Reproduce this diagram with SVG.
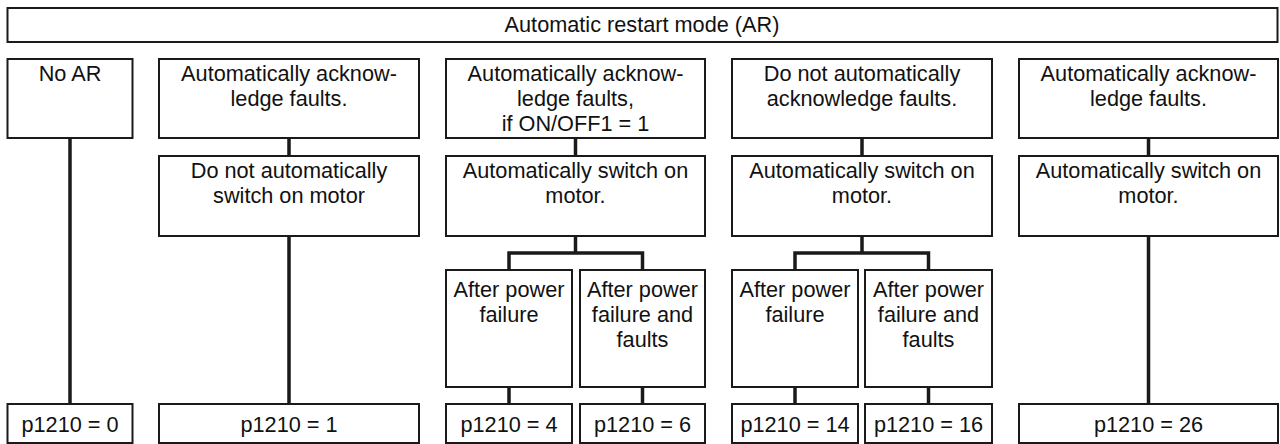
<svg xmlns="http://www.w3.org/2000/svg" width="1280" height="444" viewBox="0 0 1280 444">
<style>
.box{fill:#fff;stroke:#1a1a1a;stroke-width:2}
.t{font-family:"Liberation Sans",Arial,sans-serif;font-size:21.7px;fill:#111;text-anchor:middle}
.c{fill:none;stroke:#1a1a1a;stroke-width:3.5;stroke-linejoin:miter;stroke-linecap:butt}
</style>
<rect width="1280" height="444" fill="#fff"/>
<g id="connectors">
<path class="c" d="M70 138V404"/>
<path class="c" d="M289 138V156M289 236V404"/>
<path class="c" d="M575.5 138V156M575.5 236V253M509 270V253H642.5V270M509 387V404M642.5 387V404"/>
<path class="c" d="M862 138V156M862 236V253M795 270V253H928.5V270M795 387V404M928.5 387V404"/>
<path class="c" d="M1148.5 138V156M1148.5 236V404"/>
</g>
<g id="title"><rect class="box" x="7.5" y="8" width="1270" height="34"/><text class="t" x="642" y="32">Automatic restart mode (AR)</text></g>
<g id="noar"><rect class="box" x="7.5" y="59" width="125" height="79"/><text class="t" x="70" y="81">No AR</text></g>
<g id="ack1"><rect class="box" x="159" y="59" width="260" height="79"/><text class="t" x="289" y="81">Automatically acknow-</text><text class="t" x="289" y="106">ledge faults.</text></g>
<g id="ack2"><rect class="box" x="446" y="59" width="259" height="79"/><text class="t" x="575.5" y="81">Automatically acknow-</text><text class="t" x="575.5" y="106">ledge faults,</text><text class="t" x="575.5" y="131">if ON/OFF1 = 1</text></g>
<g id="noack"><rect class="box" x="732" y="59" width="260" height="79"/><text class="t" x="862" y="81">Do not automatically</text><text class="t" x="862" y="106">acknowledge faults.</text></g>
<g id="ack3"><rect class="box" x="1019" y="59" width="259" height="79"/><text class="t" x="1148.5" y="81">Automatically acknow-</text><text class="t" x="1148.5" y="106">ledge faults.</text></g>
<g id="noswitch"><rect class="box" x="159" y="156" width="260" height="80"/><text class="t" x="289" y="178">Do not automatically</text><text class="t" x="289" y="203">switch on motor</text></g>
<g id="switch1"><rect class="box" x="446" y="156" width="259" height="80"/><text class="t" x="575.5" y="178">Automatically switch on</text><text class="t" x="575.5" y="203">motor.</text></g>
<g id="switch2"><rect class="box" x="732" y="156" width="260" height="80"/><text class="t" x="862" y="178">Automatically switch on</text><text class="t" x="862" y="203">motor.</text></g>
<g id="switch3"><rect class="box" x="1019" y="156" width="259" height="80"/><text class="t" x="1148.5" y="178">Automatically switch on</text><text class="t" x="1148.5" y="203">motor.</text></g>
<g id="pf1"><rect class="box" x="446" y="270" width="126" height="117"/><text class="t" x="509" y="297">After power</text><text class="t" x="509" y="322">failure</text></g>
<g id="pff1"><rect class="box" x="580" y="270" width="125" height="117"/><text class="t" x="642.5" y="297">After power</text><text class="t" x="642.5" y="322">failure and</text><text class="t" x="642.5" y="347">faults</text></g>
<g id="pf2"><rect class="box" x="732" y="270" width="126" height="117"/><text class="t" x="795" y="297">After power</text><text class="t" x="795" y="322">failure</text></g>
<g id="pff2"><rect class="box" x="865" y="270" width="127" height="117"/><text class="t" x="928.5" y="297">After power</text><text class="t" x="928.5" y="322">failure and</text><text class="t" x="928.5" y="347">faults</text></g>
<g id="p0"><rect class="box" x="7.5" y="404" width="125" height="39"/><text class="t" x="70" y="432">p1210 = 0</text></g>
<g id="p1"><rect class="box" x="159" y="404" width="260" height="39"/><text class="t" x="289" y="432">p1210 = 1</text></g>
<g id="p4"><rect class="box" x="446" y="404" width="126" height="39"/><text class="t" x="509" y="432">p1210 = 4</text></g>
<g id="p6"><rect class="box" x="580" y="404" width="125" height="39"/><text class="t" x="642.5" y="432">p1210 = 6</text></g>
<g id="p14"><rect class="box" x="732" y="404" width="126" height="39"/><text class="t" x="795" y="432">p1210 = 14</text></g>
<g id="p16"><rect class="box" x="865" y="404" width="127" height="39"/><text class="t" x="928.5" y="432">p1210 = 16</text></g>
<g id="p26"><rect class="box" x="1019" y="404" width="259" height="39"/><text class="t" x="1148.5" y="432">p1210 = 26</text></g>
</svg>
